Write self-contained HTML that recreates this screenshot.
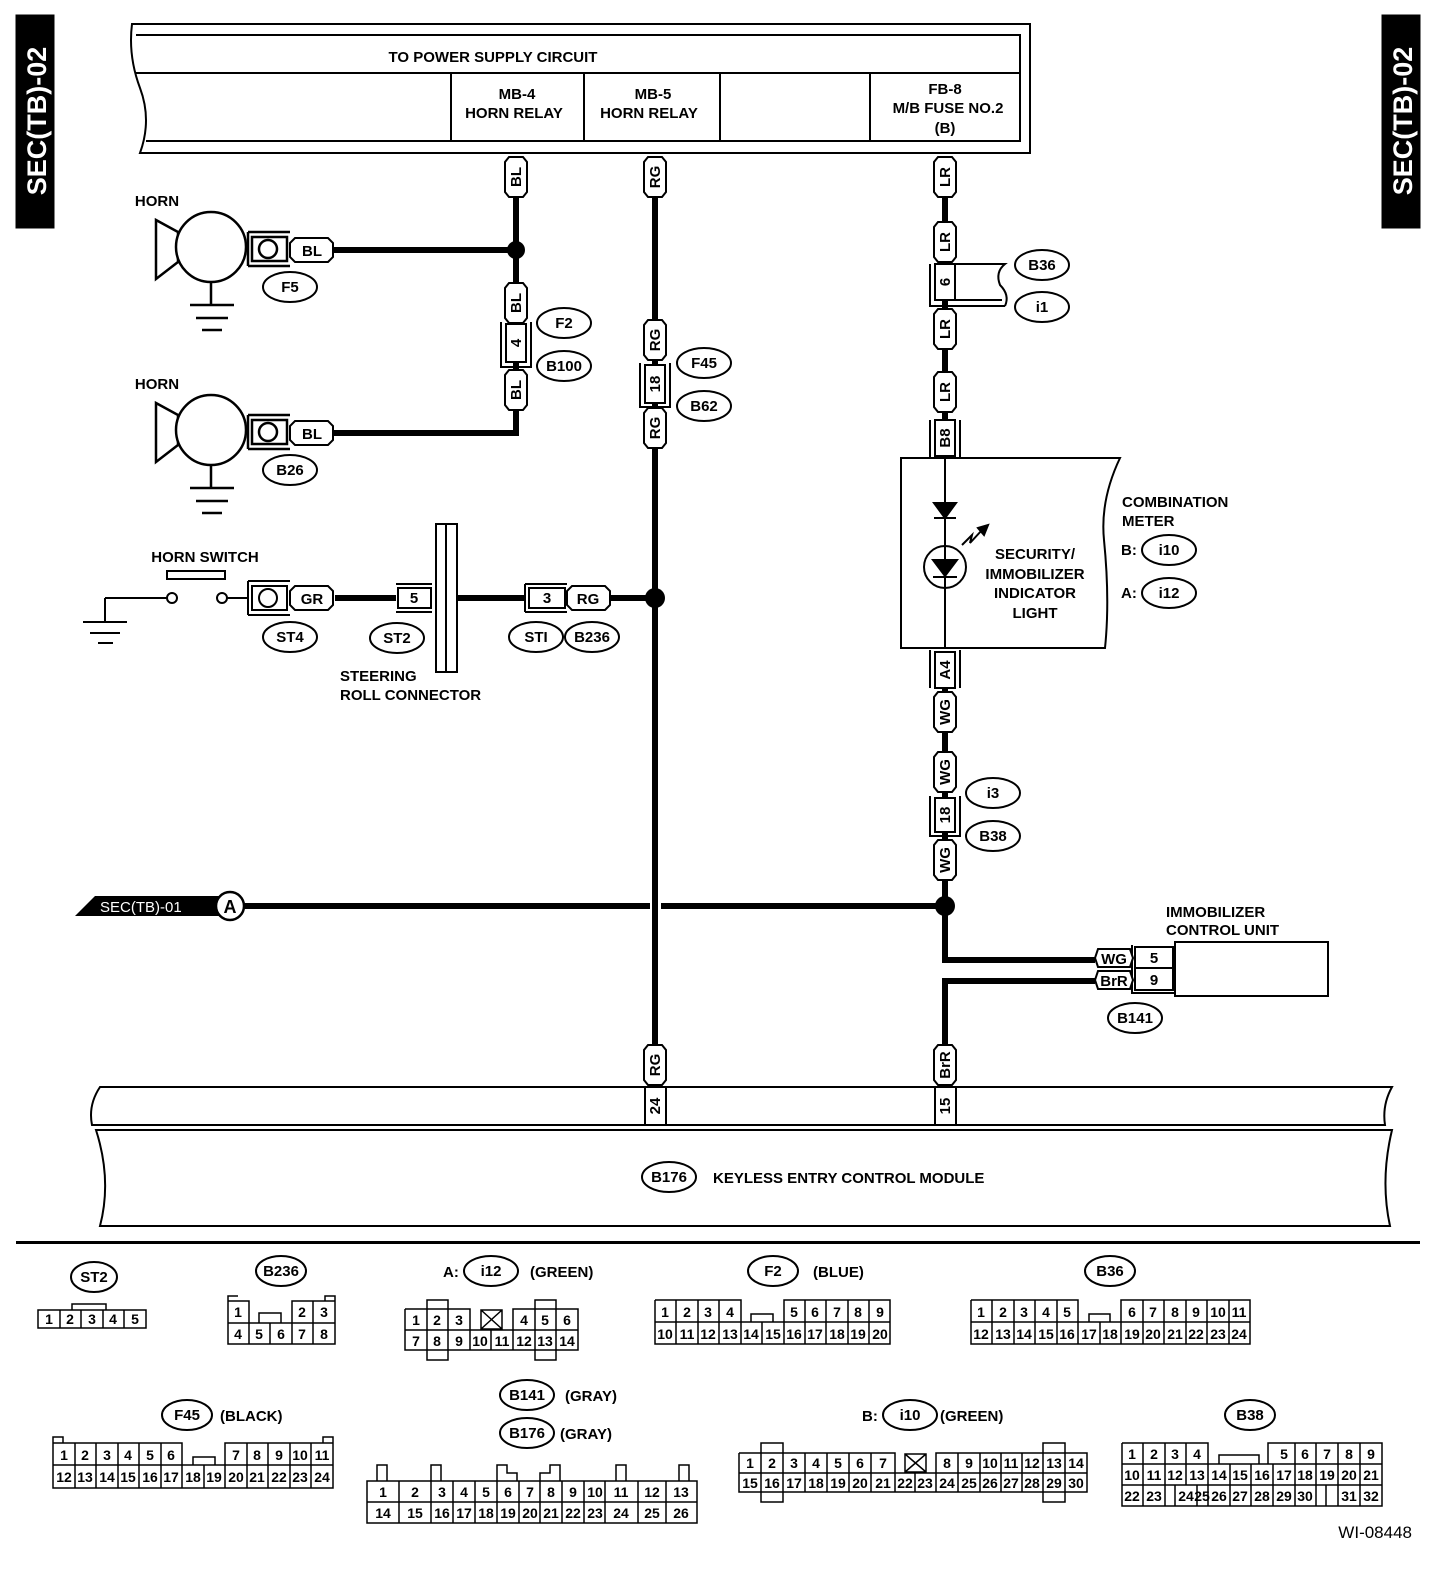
<!DOCTYPE html>
<html><head><meta charset="utf-8"><style>
html,body{margin:0;padding:0;background:#fff}
svg{display:block}
text{font-family:"Liberation Sans",Arial,sans-serif;font-weight:bold;fill:#000}
.t{font-size:15px}
.s{font-size:13px;font-weight:normal}
.c{font-size:14px;font-weight:normal}
</style></head><body>
<svg width="1456" height="1578" viewBox="0 0 1456 1578" xmlns="http://www.w3.org/2000/svg">
<defs>
<polygon id="vp" points="4,0 18,0 22,5 22,35 18,40 4,40 0,35 0,5" fill="#fff" stroke="#000" stroke-width="2"/>
<polygon id="hp" points="5,0 38,0 43,5 43,19 38,24 5,24 0,19 0,5" fill="#fff" stroke="#000" stroke-width="2"/>
</defs>
<g stroke="#000" fill="none">
<rect x="16" y="15" width="38" height="213" fill="#000"/>
<rect x="1382" y="15" width="38" height="213" fill="#000"/>
<path d="M132,24 H1030 V153 H140 Q152,120 140,88 Q128,56 132,24 Z" stroke-width="2"/>
<path d="M136,35 H1020 V141 H146 M136,73 H1020" stroke-width="2"/>
<path d="M451,73 V141 M584,73 V141 M720,73 V141 M870,73 V141" stroke-width="2"/>
<path d="M516,157 V433 H333 M333,250 H516" stroke-width="6"/>
<path d="M655,157 V1085" stroke-width="6"/>
<path d="M945,157 V420" stroke-width="6"/>
<path d="M945,458 V648" stroke-width="2"/>
<path d="M945,688 V960 H1095 M1095,981 H945 V1085" stroke-width="6"/>
<path d="M245,906 H650 M661,906 H945" stroke-width="6"/>
<path d="M335,598 H396 M457,598 H525 M610,598 H655" stroke-width="6"/>
</g>
<circle cx="516" cy="250" r="9"/>
<circle cx="655" cy="598" r="10"/>
<circle cx="945" cy="906" r="10"/>
<text x="0" y="0" transform="translate(46,121) rotate(-90)" text-anchor="middle" style="font-size:27px;fill:#fff">SEC(TB)-02</text>
<text x="0" y="0" transform="translate(1412,121) rotate(-90)" text-anchor="middle" style="font-size:27px;fill:#fff">SEC(TB)-02</text>
<g class="t" text-anchor="middle">
<text x="493" y="62">TO POWER SUPPLY CIRCUIT</text>
<text x="517" y="99">MB-4</text><text x="514" y="118">HORN RELAY</text>
<text x="653" y="99">MB-5</text><text x="649" y="118">HORN RELAY</text>
<text x="945" y="94">FB-8</text><text x="948" y="113">M/B FUSE NO.2</text><text x="945" y="133">(B)</text>
</g>
<g stroke="#000" stroke-width="2.5" fill="#fff">
<g id="horn1">
<polygon points="156,220 178,232 178,262 156,279"/>
<circle cx="211" cy="247" r="35"/>
<path d="M211,282 V305 M190,305 H234 M196,318 H228 M202,330 H222" fill="none"/>
<path d="M248,232 H290 M248,266 H290 M248,232 V266" fill="none"/>
<rect x="252" y="237" width="35" height="24"/>
<circle cx="268" cy="249" r="9"/>
</g>
<use href="#horn1" y="183"/>
</g>
<use href="#hp" x="290" y="238"/><text class="t" x="312" y="256" text-anchor="middle">BL</text>
<use href="#hp" x="290" y="421"/><text class="t" x="312" y="439" text-anchor="middle">BL</text>
<text class="t" x="157" y="206" text-anchor="middle">HORN</text>
<text class="t" x="157" y="389" text-anchor="middle">HORN</text>
<!-- module (drawn before ovals) -->
<g stroke="#000" stroke-width="2" fill="#fff">
<path d="M100,1087 H1392 Q1382,1105 1385,1125 H92 Q88,1105 100,1087 Z"/>
<path d="M96,1130 H1392 Q1380,1180 1390,1226 H100 Q112,1180 96,1130 Z"/>
<rect x="645" y="1087" width="21" height="38"/><rect x="935" y="1087" width="21" height="38"/>
</g>
<g stroke="#000" stroke-width="2" fill="#fff">
<ellipse cx="290" cy="287" rx="27" ry="15"/>
<ellipse cx="290" cy="470" rx="27" ry="15"/>
<ellipse cx="564" cy="323" rx="27" ry="15"/>
<ellipse cx="564" cy="366" rx="27" ry="15"/>
<ellipse cx="704" cy="363" rx="27" ry="15"/>
<ellipse cx="704" cy="406" rx="27" ry="15"/>
<ellipse cx="1042" cy="265" rx="27" ry="15"/>
<ellipse cx="1042" cy="307" rx="27" ry="15"/>
<ellipse cx="1169" cy="550" rx="27" ry="15"/>
<ellipse cx="1169" cy="593" rx="27" ry="15"/>
<ellipse cx="993" cy="793" rx="27" ry="15"/>
<ellipse cx="993" cy="836" rx="27" ry="15"/>
<ellipse cx="290" cy="637" rx="27" ry="15"/>
<ellipse cx="397" cy="638" rx="27" ry="15"/>
<ellipse cx="536" cy="637" rx="27" ry="15"/>
<ellipse cx="592" cy="637" rx="27" ry="15"/>
<ellipse cx="1135" cy="1018" rx="27" ry="15"/>
<ellipse cx="669" cy="1177" rx="27" ry="15"/>
<ellipse cx="94" cy="1277" rx="23" ry="15"/>
<ellipse cx="281" cy="1271" rx="25" ry="15"/>
<ellipse cx="491" cy="1271" rx="27" ry="15"/>
<ellipse cx="773" cy="1271" rx="25" ry="15"/>
<ellipse cx="1110" cy="1271" rx="25" ry="15"/>
<ellipse cx="187" cy="1415" rx="25" ry="15"/>
<ellipse cx="527" cy="1395" rx="27" ry="15"/>
<ellipse cx="527" cy="1433" rx="27" ry="15"/>
<ellipse cx="910" cy="1415" rx="27" ry="15"/>
<ellipse cx="1250" cy="1415" rx="25" ry="15"/>
</g>
<g class="t" text-anchor="middle">
<text x="290" y="292">F5</text><text x="290" y="475">B26</text>
<text x="564" y="328">F2</text><text x="564" y="371">B100</text>
<text x="704" y="368">F45</text><text x="704" y="411">B62</text>
<text x="1042" y="270">B36</text><text x="1042" y="312">i1</text>
<text x="1169" y="555">i10</text><text x="1169" y="598">i12</text>
<text x="993" y="798">i3</text><text x="993" y="841">B38</text>
<text x="290" y="642">ST4</text><text x="397" y="643">ST2</text>
<text x="536" y="642">STI</text><text x="592" y="642">B236</text>
<text x="1135" y="1023">B141</text><text x="669" y="1182">B176</text>
<text x="94" y="1282">ST2</text><text x="281" y="1276">B236</text>
<text x="491" y="1276">i12</text><text x="773" y="1276">F2</text>
<text x="1110" y="1276">B36</text><text x="187" y="1420">F45</text>
<text x="527" y="1400">B141</text><text x="527" y="1438">B176</text>
<text x="910" y="1420">i10</text><text x="1250" y="1420">B38</text>
</g>
<g>
<use href="#vp" x="505" y="157"/><use href="#vp" x="505" y="283"/><use href="#vp" x="505" y="370"/>
<use href="#vp" x="644" y="157"/><use href="#vp" x="644" y="320"/><use href="#vp" x="644" y="408"/><use href="#vp" x="644" y="1045"/>
<use href="#vp" x="934" y="157"/><use href="#vp" x="934" y="222"/><use href="#vp" x="934" y="309"/><use href="#vp" x="934" y="372"/>
<use href="#vp" x="934" y="692"/><use href="#vp" x="934" y="752"/><use href="#vp" x="934" y="840"/><use href="#vp" x="934" y="1045"/>
</g>
<g class="t" text-anchor="middle">
<text transform="translate(521,177) rotate(-90)">BL</text>
<text transform="translate(521,303) rotate(-90)">BL</text>
<text transform="translate(521,390) rotate(-90)">BL</text>
<text transform="translate(660,177) rotate(-90)">RG</text>
<text transform="translate(660,340) rotate(-90)">RG</text>
<text transform="translate(660,428) rotate(-90)">RG</text>
<text transform="translate(660,1065) rotate(-90)">RG</text>
<text transform="translate(950,177) rotate(-90)">LR</text>
<text transform="translate(950,242) rotate(-90)">LR</text>
<text transform="translate(950,329) rotate(-90)">LR</text>
<text transform="translate(950,392) rotate(-90)">LR</text>
<text transform="translate(950,712) rotate(-90)">WG</text>
<text transform="translate(950,772) rotate(-90)">WG</text>
<text transform="translate(950,860) rotate(-90)">WG</text>
<text transform="translate(950,1065) rotate(-90)">BrR</text>
</g>
<g stroke="#000" stroke-width="2" fill="#fff">
<path d="M501,322 V367 H531 V322" fill="none"/><rect x="506" y="324" width="20" height="38"/>
<path d="M640,363 V407 H670 V363" fill="none"/><rect x="645" y="365" width="20" height="38"/>
<path d="M930,264 V306 H1005 M1005,306 Q1010,295 1000,285 Q995,272 1005,264 H940 V300 H1002" fill="none"/>
<rect x="935" y="264" width="20" height="36"/>
<path d="M930,420 V458 M960,420 V458" fill="none"/><rect x="935" y="420" width="20" height="36"/>
<path d="M930,650 V688 M960,650 V688" fill="none"/><rect x="935" y="652" width="20" height="36"/>
<path d="M930,796 V836 H960 V796" fill="none"/><rect x="935" y="798" width="20" height="34"/>
<path d="M901,458 H1120 Q1100,500 1104,540 Q1110,600 1105,648 H901 Z"/>
<path d="M945,458 V648"/>
<polygon points="934,503 956,503 945,518" fill="#000"/>
<path d="M934,518 H956" />
<circle cx="945" cy="567" r="21"/>
<path d="M945,458 V648"/>
<polygon points="933,560 957,560 945,576" fill="#000"/>
<path d="M933,577 H957"/>
<path d="M962,545 L972,535 L970,543 L982,530" fill="none"/>
<polygon points="978,528 988,525 984,535" fill="#000"/>
<rect x="1175" y="942" width="153" height="54"/>
<rect x="1135" y="947" width="38" height="43"/>
<path d="M1135,968 H1173"/>
<path d="M1132,945 V993 H1175" fill="none"/>
<path d="M105,598 H168 M105,598 V622 M83,622 H127 M90,633 H120 M98,643 H113 M227,598 H248" fill="none"/>
<circle cx="172" cy="598" r="5"/><circle cx="222" cy="598" r="5"/>
<rect x="167" y="571" width="58" height="8"/>
<path d="M248,581 H290 M248,615 H290 M248,581 V615" fill="none"/>
<rect x="252" y="586" width="35" height="24"/><circle cx="268" cy="598" r="9"/>
<path d="M396,584 H432 M396,612 H432" fill="none"/><rect x="398" y="588" width="33" height="20"/>
<rect x="436" y="524" width="21" height="148"/><path d="M446,524 V672"/>
<path d="M525,584 H567 M525,612 H567 M525,584 V612" fill="none"/><rect x="529" y="588" width="36" height="20"/>
</g>
<use href="#hp" x="290" y="586"/><text class="t" x="312" y="604" text-anchor="middle">GR</text>
<use href="#hp" x="567" y="586"/><text class="t" x="588" y="604" text-anchor="middle">RG</text>
<polygon points="1098,949 1130,949 1133,958 1130,967 1098,967 1095,958" fill="#fff" stroke="#000" stroke-width="2"/>
<polygon points="1098,971 1130,971 1133,980 1130,989 1098,989 1095,980" fill="#fff" stroke="#000" stroke-width="2"/>
<g class="t" text-anchor="middle">
<text transform="translate(521,343) rotate(-90)">4</text>
<text transform="translate(660,384) rotate(-90)">18</text>
<text transform="translate(950,282) rotate(-90)">6</text>
<text transform="translate(950,438) rotate(-90)">B8</text>
<text transform="translate(950,670) rotate(-90)">A4</text>
<text transform="translate(950,815) rotate(-90)">18</text>
<text transform="translate(660,1106) rotate(-90)">24</text>
<text transform="translate(950,1106) rotate(-90)">15</text>
<text x="414" y="603">5</text><text x="547" y="603">3</text>
<text x="1114" y="964">WG</text><text x="1114" y="986">BrR</text>
<text x="1154" y="963">5</text><text x="1154" y="985">9</text>
<text x="1035" y="559">SECURITY/</text><text x="1035" y="579">IMMOBILIZER</text>
<text x="1035" y="598">INDICATOR</text><text x="1035" y="618">LIGHT</text>
<text x="205" y="562">HORN SWITCH</text>
</g>
<g class="t">
<text x="1122" y="507">COMBINATION</text><text x="1122" y="526">METER</text>
<text x="1121" y="555">B:</text><text x="1121" y="598">A:</text>
<text x="1166" y="917">IMMOBILIZER</text><text x="1166" y="935">CONTROL UNIT</text>
<text x="340" y="681">STEERING</text><text x="340" y="700">ROLL CONNECTOR</text>
<text x="713" y="1183">KEYLESS ENTRY CONTROL MODULE</text>
<text x="443" y="1277">A:</text><text x="530" y="1277">(GREEN)</text>
<text x="813" y="1277">(BLUE)</text>
<text x="220" y="1421">(BLACK)</text>
<text x="565" y="1401">(GRAY)</text><text x="560" y="1439">(GRAY)</text>
<text x="862" y="1421">B:</text><text x="940" y="1421">(GREEN)</text>
</g>
<polygon points="75,916 95,896 220,896 220,916" fill="#000"/>
<text x="100" y="912" style="font-size:15px;fill:#fff;font-weight:normal">SEC(TB)-01</text>
<circle cx="230" cy="906" r="14" fill="#fff" stroke="#000" stroke-width="2.5"/>
<text x="230" y="913" class="t" text-anchor="middle" style="font-size:18px">A</text>
<rect x="16" y="1241" width="1404" height="3"/>
<text x="1412" y="1538" text-anchor="end" style="font-size:17px;font-weight:normal">WI-08448</text>

<g stroke="#000" stroke-width="1.5" fill="none">
<rect x="38" y="1310" width="108" height="18"/><path d="M60,1310 V1328 M81,1310 V1328 M103,1310 V1328 M124,1310 V1328 M72,1310 V1304 H106 V1310"/>
<path d="M228,1301 H249 V1323 M228,1323 H335 V1344 H228 Z M228,1301 V1323 M259,1323 V1313 H281 V1323 M292,1323 V1301 H335 V1323 M313,1301 V1323 M249,1323 V1344 M270,1323 V1344 M292,1323 V1344 M313,1323 V1344 M228,1301 V1296 H238 M325,1301 V1296 H335 V1301"/>
<path d="M405,1309 H470 V1330 M405,1309 V1350 H578 V1309 H513 V1330 M405,1330 H578 M427,1309 V1350 M448,1309 V1350 M470,1330 V1350 M491,1330 V1350 M513,1330 V1350 M535,1309 V1350 M556,1309 V1350 M481,1310 H502 V1329 H481 Z M481,1310 L502,1329 M502,1310 L481,1329 M427,1309 V1300 H448 V1309 M535,1309 V1300 H556 V1309 M427,1350 V1360 H448 V1350 M535,1350 V1360 H556 V1350"/>
<path d="M655,1300 H741 V1322 M655,1300 V1344 H890 V1300 H784 V1322 M655,1322 H890 M676,1300 V1344 M698,1300 V1344 M719,1300 V1344 M741,1322 V1344 M762,1322 V1344 M784,1322 V1344 M805,1300 V1344 M826,1300 V1344 M848,1300 V1344 M869,1300 V1344 M751,1322 V1314 H773 V1322"/>
<path d="M971,1300 H1078 V1322 M971,1300 V1344 H1250 V1300 H1121 V1322 M971,1322 H1250 M992,1300 V1344 M1014,1300 V1344 M1035,1300 V1344 M1057,1300 V1344 M1078,1322 V1344 M1100,1322 V1344 M1121,1322 V1344 M1143,1300 V1344 M1164,1300 V1344 M1186,1300 V1344 M1207,1300 V1344 M1229,1300 V1344 M1089,1322 V1314 H1110 V1322"/>
<path d="M53,1443 H182 V1465 M53,1443 V1488 H333 V1443 H225 V1465 M53,1465 H333 M75,1443 V1488 M96,1443 V1488 M118,1443 V1488 M139,1443 V1488 M161,1443 V1488 M182,1465 V1488 M204,1465 V1488 M225,1465 V1488 M247,1443 V1488 M268,1443 V1488 M290,1443 V1488 M311,1443 V1488 M193,1465 V1457 H215 V1465 M53,1443 V1437 H63 V1443 M323,1443 V1437 H333 V1443"/>
<path d="M367,1481 H697 V1523 H367 Z M367,1502 H697 M399,1481 V1523 M431,1481 V1523 M453,1481 V1523 M475,1481 V1523 M497,1481 V1523 M519,1481 V1523 M540,1481 V1523 M562,1481 V1523 M584,1481 V1523 M605,1481 V1523 M638,1481 V1523 M666,1481 V1523 M377,1481 V1465 H387 V1481 M431,1481 V1465 H441 V1481 M497,1481 V1465 H507 V1473 H517 V1481 M540,1481 V1473 H550 V1465 H560 V1481 M616,1481 V1465 H626 V1481 M679,1481 V1465 H689 V1481"/>
<path d="M739,1453 H895 V1473 M739,1453 V1492 H1087 V1453 H936 V1473 M739,1473 H1087 M761,1453 V1492 M783,1453 V1492 M805,1453 V1492 M827,1453 V1492 M849,1453 V1492 M871,1453 V1492 M895,1473 V1492 M915,1473 V1492 M936,1473 V1492 M958,1453 V1492 M980,1453 V1492 M1001,1453 V1492 M1022,1453 V1492 M1043,1453 V1492 M1065,1453 V1492 M905,1454 H926 V1472 H905 Z M905,1454 L926,1472 M926,1454 L905,1472 M761,1453 V1443 H783 V1453 M761,1492 V1502 H783 V1492 M1043,1453 V1443 H1065 V1453 M1043,1492 V1502 H1065 V1492"/>
<path d="M1122,1443 H1208 V1464 M1122,1443 V1506 H1382 V1443 H1268 V1464 M1122,1464 H1382 M1122,1485 H1382 M1143,1443 V1506 M1165,1443 V1506 M1186,1443 V1485 M1208,1464 V1485 M1230,1464 V1506 M1251,1464 V1506 M1273,1464 V1506 M1295,1443 V1506 M1316,1443 V1506 M1338,1443 V1506 M1360,1443 V1506 M1219,1464 V1455 H1259 V1464 M1165,1485 V1506 M1175,1485 V1506 M1197,1485 V1506 M1208,1485 V1506 M1326,1485 V1506"/>
</g>
<g class="c" text-anchor="middle">
<text x="49" y="1324">1</text><text x="70" y="1324">2</text><text x="92" y="1324">3</text><text x="113" y="1324">4</text><text x="135" y="1324">5</text>
<text x="238" y="1317">1</text><text x="302" y="1317">2</text><text x="324" y="1317">3</text>
<text x="238" y="1339">4</text><text x="259" y="1339">5</text><text x="281" y="1339">6</text><text x="302" y="1339">7</text><text x="324" y="1339">8</text>
<text x="416" y="1325">1</text><text x="437" y="1325">2</text><text x="459" y="1325">3</text><text x="524" y="1325">4</text><text x="545" y="1325">5</text><text x="567" y="1325">6</text>
<text x="416" y="1346">7</text><text x="437" y="1346">8</text><text x="459" y="1346">9</text><text x="480" y="1346">10</text><text x="502" y="1346">11</text><text x="524" y="1346">12</text><text x="545" y="1346">13</text><text x="567" y="1346">14</text>
<text x="665" y="1317">1</text><text x="687" y="1317">2</text><text x="708" y="1317">3</text><text x="730" y="1317">4</text><text x="794" y="1317">5</text><text x="815" y="1317">6</text><text x="837" y="1317">7</text><text x="858" y="1317">8</text><text x="880" y="1317">9</text>
<text x="665" y="1339">10</text><text x="687" y="1339">11</text><text x="708" y="1339">12</text><text x="730" y="1339">13</text><text x="751" y="1339">14</text><text x="773" y="1339">15</text><text x="794" y="1339">16</text><text x="815" y="1339">17</text><text x="837" y="1339">18</text><text x="858" y="1339">19</text><text x="880" y="1339">20</text>
<text x="981" y="1317">1</text><text x="1003" y="1317">2</text><text x="1024" y="1317">3</text><text x="1046" y="1317">4</text><text x="1067" y="1317">5</text><text x="1132" y="1317">6</text><text x="1153" y="1317">7</text><text x="1175" y="1317">8</text><text x="1196" y="1317">9</text><text x="1218" y="1317">10</text><text x="1239" y="1317">11</text>
<text x="981" y="1339">12</text><text x="1003" y="1339">13</text><text x="1024" y="1339">14</text><text x="1046" y="1339">15</text><text x="1067" y="1339">16</text><text x="1089" y="1339">17</text><text x="1110" y="1339">18</text><text x="1132" y="1339">19</text><text x="1153" y="1339">20</text><text x="1175" y="1339">21</text><text x="1196" y="1339">22</text><text x="1218" y="1339">23</text><text x="1239" y="1339">24</text>
<text x="64" y="1460">1</text><text x="85" y="1460">2</text><text x="107" y="1460">3</text><text x="128" y="1460">4</text><text x="150" y="1460">5</text><text x="171" y="1460">6</text><text x="236" y="1460">7</text><text x="257" y="1460">8</text><text x="279" y="1460">9</text><text x="300" y="1460">10</text><text x="322" y="1460">11</text>
<text x="64" y="1482">12</text><text x="85" y="1482">13</text><text x="107" y="1482">14</text><text x="128" y="1482">15</text><text x="150" y="1482">16</text><text x="171" y="1482">17</text><text x="193" y="1482">18</text><text x="214" y="1482">19</text><text x="236" y="1482">20</text><text x="257" y="1482">21</text><text x="279" y="1482">22</text><text x="300" y="1482">23</text><text x="322" y="1482">24</text>
<text x="383" y="1497">1</text><text x="415" y="1497">2</text><text x="442" y="1497">3</text><text x="464" y="1497">4</text><text x="486" y="1497">5</text><text x="508" y="1497">6</text><text x="530" y="1497">7</text><text x="551" y="1497">8</text><text x="573" y="1497">9</text><text x="595" y="1497">10</text><text x="621" y="1497">11</text><text x="652" y="1497">12</text><text x="681" y="1497">13</text>
<text x="383" y="1518">14</text><text x="415" y="1518">15</text><text x="442" y="1518">16</text><text x="464" y="1518">17</text><text x="486" y="1518">18</text><text x="508" y="1518">19</text><text x="530" y="1518">20</text><text x="551" y="1518">21</text><text x="573" y="1518">22</text><text x="595" y="1518">23</text><text x="621" y="1518">24</text><text x="652" y="1518">25</text><text x="681" y="1518">26</text>
<text x="750" y="1468">1</text><text x="772" y="1468">2</text><text x="794" y="1468">3</text><text x="816" y="1468">4</text><text x="838" y="1468">5</text><text x="860" y="1468">6</text><text x="883" y="1468">7</text><text x="947" y="1468">8</text><text x="969" y="1468">9</text><text x="990" y="1468">10</text><text x="1011" y="1468">11</text><text x="1032" y="1468">12</text><text x="1054" y="1468">13</text><text x="1076" y="1468">14</text>
<text x="750" y="1488">15</text><text x="772" y="1488">16</text><text x="794" y="1488">17</text><text x="816" y="1488">18</text><text x="838" y="1488">19</text><text x="860" y="1488">20</text><text x="883" y="1488">21</text><text x="905" y="1488">22</text><text x="925" y="1488">23</text><text x="947" y="1488">24</text><text x="969" y="1488">25</text><text x="990" y="1488">26</text><text x="1011" y="1488">27</text><text x="1032" y="1488">28</text><text x="1054" y="1488">29</text><text x="1076" y="1488">30</text>
<text x="1132" y="1459">1</text><text x="1154" y="1459">2</text><text x="1175" y="1459">3</text><text x="1197" y="1459">4</text><text x="1284" y="1459">5</text><text x="1305" y="1459">6</text><text x="1327" y="1459">7</text><text x="1349" y="1459">8</text><text x="1371" y="1459">9</text>
<text x="1132" y="1480">10</text><text x="1154" y="1480">11</text><text x="1175" y="1480">12</text><text x="1197" y="1480">13</text><text x="1219" y="1480">14</text><text x="1240" y="1480">15</text><text x="1262" y="1480">16</text><text x="1284" y="1480">17</text><text x="1305" y="1480">18</text><text x="1327" y="1480">19</text><text x="1349" y="1480">20</text><text x="1371" y="1480">21</text>
<text x="1132" y="1501">22</text><text x="1154" y="1501">23</text><text x="1186" y="1501">24</text><text x="1202" y="1501">25</text><text x="1219" y="1501">26</text><text x="1240" y="1501">27</text><text x="1262" y="1501">28</text><text x="1284" y="1501">29</text><text x="1305" y="1501">30</text><text x="1349" y="1501">31</text><text x="1371" y="1501">32</text>
</g>
</svg>
</body></html>
